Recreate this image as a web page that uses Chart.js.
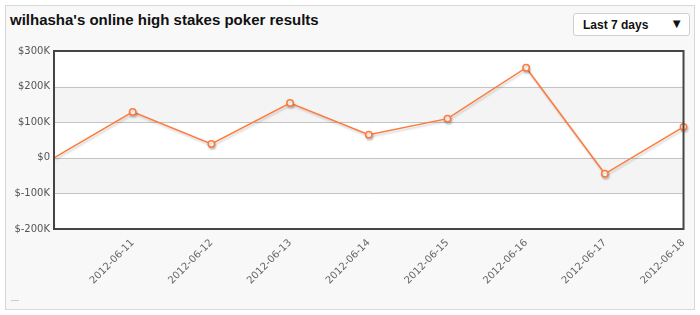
<!DOCTYPE html>
<html><head><meta charset="utf-8">
<script src="https://cdn.jsdelivr.net/npm/chart.js@4/dist/chart.umd.min.js"></script>
<style>
html,body{margin:0;padding:0;background:#fff;width:700px;height:315px;overflow:hidden;}
#panel{position:absolute;left:5px;top:5px;width:688px;height:303px;border:1px solid #d8d8d8;background:#f8f8f8;}
#title{position:absolute;left:10px;top:11px;font:bold 15px "Liberation Sans",Arial,sans-serif;color:#111;}
#dd{position:absolute;left:573px;top:13px;width:115px;height:21px;border:1px solid #d0d0d0;border-radius:3px;background:#fff;font:bold 12px "Liberation Sans",Arial,sans-serif;color:#111;}
#dd span{position:absolute;left:9px;top:4px;}
#dd b{position:absolute;right:6px;top:2px;font-size:13px;}
#dash{position:absolute;left:11px;top:300px;width:8px;height:1px;background:#ccc;}
#wrap{position:absolute;left:0;top:0;width:700px;height:315px;}
</style></head>
<body>
<div id="panel"></div>
<div id="title">wilhasha's online high stakes poker results</div>
<div id="dd"><span>Last 7 days</span><b>&#9660;</b></div>
<div id="dash"></div>
<div id="wrap"><canvas id="c" width="700" height="315"></canvas></div>
<script>
const categories = ['', '2012-06-11', '2012-06-12', '2012-06-13', '2012-06-14', '2012-06-15', '2012-06-16', '2012-06-17', '2012-06-18'];
const results = [0, 129000, 39000, 154000, 65000, 110000, 253000, -45000, 87000];
const yTicks = [300000, 200000, 100000, 0, -100000, -200000];

const bands = {
  id: 'bands',
  beforeDatasetsDraw(chart) {
    const {ctx, chartArea: a, scales: {y}} = chart;
    ctx.save();
    ctx.fillStyle = '#fff';
    ctx.fillRect(a.left, a.top, a.right - a.left, a.bottom - a.top);
    const t = yTicks.slice().sort((p, q) => q - p);
    for (let i = 0; i < t.length - 1; i++) {
      if (i % 2 === 1) {
        const y1 = y.getPixelForValue(t[i]), y2 = y.getPixelForValue(t[i + 1]);
        ctx.fillStyle = '#f4f4f4';
        ctx.fillRect(a.left, y1, a.right - a.left, y2 - y1);
      }
    }
    ctx.strokeStyle = '#c4c4c4';
    ctx.lineWidth = 1;
    for (let i = 1; i < t.length - 1; i++) {
      const yy = Math.round(y.getPixelForValue(t[i])) + 0.5;
      ctx.beginPath(); ctx.moveTo(a.left, yy); ctx.lineTo(a.right, yy); ctx.stroke();
    }
    ctx.restore();
  },
  afterDraw(chart) {
    const {ctx, chartArea: a} = chart;
    ctx.save();
    ctx.strokeStyle = '#444';
    ctx.lineWidth = 2;
    ctx.strokeRect(a.left, a.top, a.right - a.left, a.bottom - a.top);
    ctx.restore();
  }
};
const shadow = {
  id: 'shadow',
  beforeDatasetDraw(chart) {
    const ctx = chart.ctx; ctx.save();
    ctx.shadowColor = 'rgba(0,0,0,0.18)'; ctx.shadowOffsetX = 1; ctx.shadowOffsetY = 2; ctx.shadowBlur = 2;
  },
  afterDatasetDraw(chart) { chart.ctx.restore(); }
};

new Chart(document.getElementById('c'), {
  type: 'line',
  data: {
    labels: categories,
    datasets: [{
      data: results,
      borderColor: '#ff7a3a',
      borderWidth: 1.5,
      backgroundColor: '#fff',
      pointBackgroundColor: '#fff',
      pointBorderColor: '#ff7a3a',
      pointBorderWidth: 1.5,
      pointRadius: c => c.dataIndex === 0 ? 0 : 3.2,
      tension: 0,
      clip: false
    }]
  },
  options: {
    responsive: false,
    animation: false,
    devicePixelRatio: 1,
    layout: {padding: {left: 0, right: 12, top: 51, bottom: 0}},
    plugins: {legend: {display: false}, tooltip: {enabled: false}},
    scales: {
      x: {
        offset: false,
        grid: {display: false, drawTicks: false},
        border: {display: false},
        afterFit(s) { s.height = 315 - 229; },
        ticks: {
          autoSkip: false, minRotation: 45, maxRotation: 45, padding: 8,
          color: '#666', font: {family: 'DejaVu Sans', size: 10}
        }
      },
      y: {
        min: -200000, max: 300000,
        afterBuildTicks(s) { s.ticks = yTicks.map(v => ({value: v})); },
        afterFit(s) { s.width = 54; },
        grid: {display: false, drawTicks: false},
        border: {display: false},
        ticks: {
          padding: 4,
          color: '#555', font: {family: 'DejaVu Sans', size: 10},
          callback: v => v === 0 ? '$0' : '$' + (v / 1000) + 'K'
        }
      }
    }
  },
  plugins: [bands, shadow]
});
</script>
</body></html>
